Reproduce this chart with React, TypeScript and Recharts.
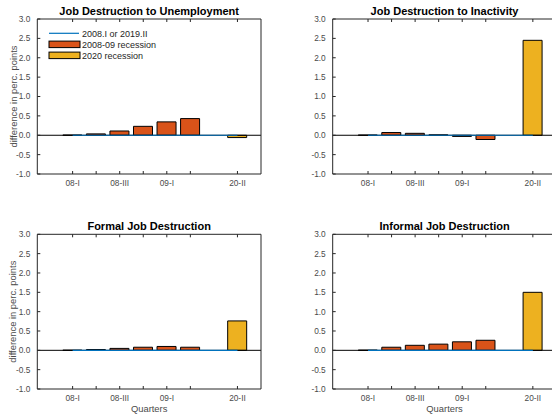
import { ComposedChart, Bar, Line, XAxis, YAxis, ReferenceLine, Legend } from 'recharts';

// quarter slots on the x axis; slot 6 stays empty between 2009 and 2020
const slotPositions = [0, 1, 2, 3, 4, 5, 6, 7];
const quarterTicks = [0, 1, 2, 3, 4, 5, 7];
const quarterLabels = ['08-I', '', '08-III', '', '09-I', '', '20-II'];
const yTicks = [-1, -0.5, 0, 0.5, 1, 1.5, 2, 2.5, 3];

// reference period (2008.I or 2019.II) sits at zero by construction
const baseline = [0, 0, 0, 0, 0, 0, 0, 0];

// 2008-09 recession, 08-I .. 09-II
const unemp0809 = [0.005, 0.035, 0.11, 0.23, 0.345, 0.43];
const inact0809 = [0.005, 0.07, 0.05, 0.01, -0.03, -0.11];
const formal0809 = [0.004, 0.02, 0.05, 0.08, 0.1, 0.08];
const informal0809 = [0.005, 0.08, 0.13, 0.16, 0.22, 0.26];

// 2020 recession, 20-II
const unemp2020 = -0.06;
const inact2020 = 2.45;
const formal2020 = 0.76;
const informal2020 = 1.5;

const seriesNames = ['2008.I or 2019.II', '2008-09 recession', '2020 recession'];
const BLUE = '#0072BD';
const ORANGE = '#D95319';
const YELLOW = '#EDB120';
const AXIS = '#262626';
const TEXT = '#4a4a4a';

function buildRows(rec0809: number[], rec2020: number) {
  return slotPositions.map((x) => ({
    x,
    base: baseline[x],
    r0809: x < rec0809.length ? rec0809[x] : null,
    r2020: x === 7 ? rec2020 : null,
  }));
}

function LegendBox() {
  const rowY = [6.3, 17.3, 28.3];
  return (
    <svg width={130} height={36} style={{ display: 'block' }}>
      <line x1={3} x2={33} y1={rowY[0]} y2={rowY[0]} stroke={BLUE} strokeWidth={1.2} />
      <rect x={3} y={rowY[1] - 3.2} width={31} height={6.5} fill={ORANGE} stroke="#000" strokeWidth={1} />
      <rect x={3} y={rowY[2] - 3.2} width={31} height={6.5} fill={YELLOW} stroke="#000" strokeWidth={1} />
      {seriesNames.map((name, i) => (
        <text key={name} x={36} y={rowY[i] + 3.2} fontSize={9} fill={AXIS}>
          {name}
        </text>
      ))}
    </svg>
  );
}

type PanelProps = {
  title: string;
  rows: ReturnType<typeof buildRows>;
  left: number;
  top: number;
  width: number;
  marginTop: number;
  marginRight: number;
  yAxisWidth: number;
  xAxisHeight: number;
  yLabel?: boolean;
  xLabel?: boolean;
  legend?: boolean;
};

function Panel(p: PanelProps) {
  return (
    <div style={{ position: 'absolute', left: p.left, top: p.top }}>
      <ComposedChart
        width={p.width}
        height={207}
        data={p.rows}
        margin={{ top: p.marginTop, right: p.marginRight, bottom: 0, left: 0 }}
      >
        <XAxis
          dataKey="x"
          type="number"
          domain={[-1.5, 8]}
          ticks={quarterTicks}
          tickFormatter={(v: number) => quarterLabels[quarterTicks.indexOf(v)] ?? ''}
          height={p.xAxisHeight}
          stroke={AXIS}
          tickSize={-3}
          tickMargin={9}
          tick={{ fontSize: 8.3, fill: TEXT }}
          interval={0}
          label={
            p.xLabel
              ? {
                  content: ({ viewBox }: any) => (
                    <text x={viewBox.x + viewBox.width / 2} y={viewBox.y + 22.5} textAnchor="middle" fontSize={9.4} fill={TEXT}>
                      Quarters
                    </text>
                  ),
                }
              : undefined
          }
        />
        <XAxis
          xAxisId="top"
          orientation="top"
          dataKey="x"
          type="number"
          domain={[-1.5, 8]}
          ticks={quarterTicks}
          tickFormatter={() => ''}
          height={1}
          stroke={AXIS}
          tickSize={-3}
          interval={0}
          label={{
            content: ({ viewBox }: any) => (
              <text x={viewBox.x + viewBox.width / 2} y={viewBox.y + viewBox.height - 4.3} textAnchor="middle" fontSize={11} fontWeight="bold" fill="#000">
                {p.title}
              </text>
            ),
          }}
        />
        <YAxis
          type="number"
          domain={[-1, 3]}
          ticks={yTicks}
          tickFormatter={(v: number) => v.toFixed(1)}
          width={p.yAxisWidth}
          stroke={AXIS}
          tickSize={-3}
          tickMargin={10}
          tick={{ fontSize: 8.3, fill: TEXT }}
          interval={0}
          label={
            p.yLabel
              ? {
                  content: ({ viewBox }: any) => {
                    const cx = viewBox.x + 16.5;
                    const cy = viewBox.y + viewBox.height / 2;
                    return (
                      <text x={cx} y={cy} textAnchor="middle" fontSize={9.4} fill={TEXT} transform={`rotate(-90, ${cx}, ${cy})`}>
                        difference in perc. points
                      </text>
                    );
                  },
                }
              : undefined
          }
        />
        <YAxis
          yAxisId="mirror"
          orientation="right"
          type="number"
          domain={[-1, 3]}
          ticks={yTicks}
          tickFormatter={() => ''}
          width={1}
          stroke={AXIS}
          tickSize={-3}
          interval={0}
        />
        <ReferenceLine y={0} stroke="#000" strokeWidth={1} />
        <Line dataKey="base" stroke={BLUE} strokeWidth={1.2} dot={false} type="linear" isAnimationActive={false} />
        <Bar dataKey="r0809" stackId="rec" barSize={19} fill={ORANGE} stroke="#000" strokeWidth={1} isAnimationActive={false} />
        <Bar dataKey="r2020" stackId="rec" barSize={19} fill={YELLOW} stroke="#000" strokeWidth={1} isAnimationActive={false} />
        {p.legend && (
          <Legend
            layout="horizontal"
            verticalAlign="middle"
            align="center"
            content={() => <LegendBox />}
            wrapperStyle={{ position: 'absolute', left: 46, top: 27, width: 130, height: 36 }}
          />
        )}
      </ComposedChart>
    </div>
  );
}

export default function App() {
  return (
    <div
      style={{
        position: 'fixed',
        left: 0,
        top: 0,
        width: 552,
        height: 414,
        overflow: 'hidden',
        background: '#fff',
        fontFamily: '"Liberation Sans", Arial, Helvetica, sans-serif',
      }}
    >
      <Panel
        title="Job Destruction to Unemployment"
        rows={buildRows(unemp0809, unemp2020)}
        left={0}
        top={0}
        width={276}
        marginTop={18}
        marginRight={14}
        yAxisWidth={37.3}
        xAxisHeight={33}
        yLabel
        legend
      />
      <Panel
        title="Job Destruction to Inactivity"
        rows={buildRows(inact0809, inact2020)}
        left={276}
        top={0}
        width={296}
        marginTop={18}
        marginRight={14.6}
        yAxisWidth={56.7}
        xAxisHeight={33}
      />
      <Panel
        title="Formal Job Destruction"
        rows={buildRows(formal0809, formal2020)}
        left={0}
        top={207}
        width={276}
        marginTop={26.3}
        marginRight={14}
        yAxisWidth={37.3}
        xAxisHeight={25}
        yLabel
        xLabel
      />
      <Panel
        title="Informal Job Destruction"
        rows={buildRows(informal0809, informal2020)}
        left={276}
        top={207}
        width={296}
        marginTop={26.3}
        marginRight={14.6}
        yAxisWidth={56.7}
        xAxisHeight={25}
        xLabel
      />
    </div>
  );
}
